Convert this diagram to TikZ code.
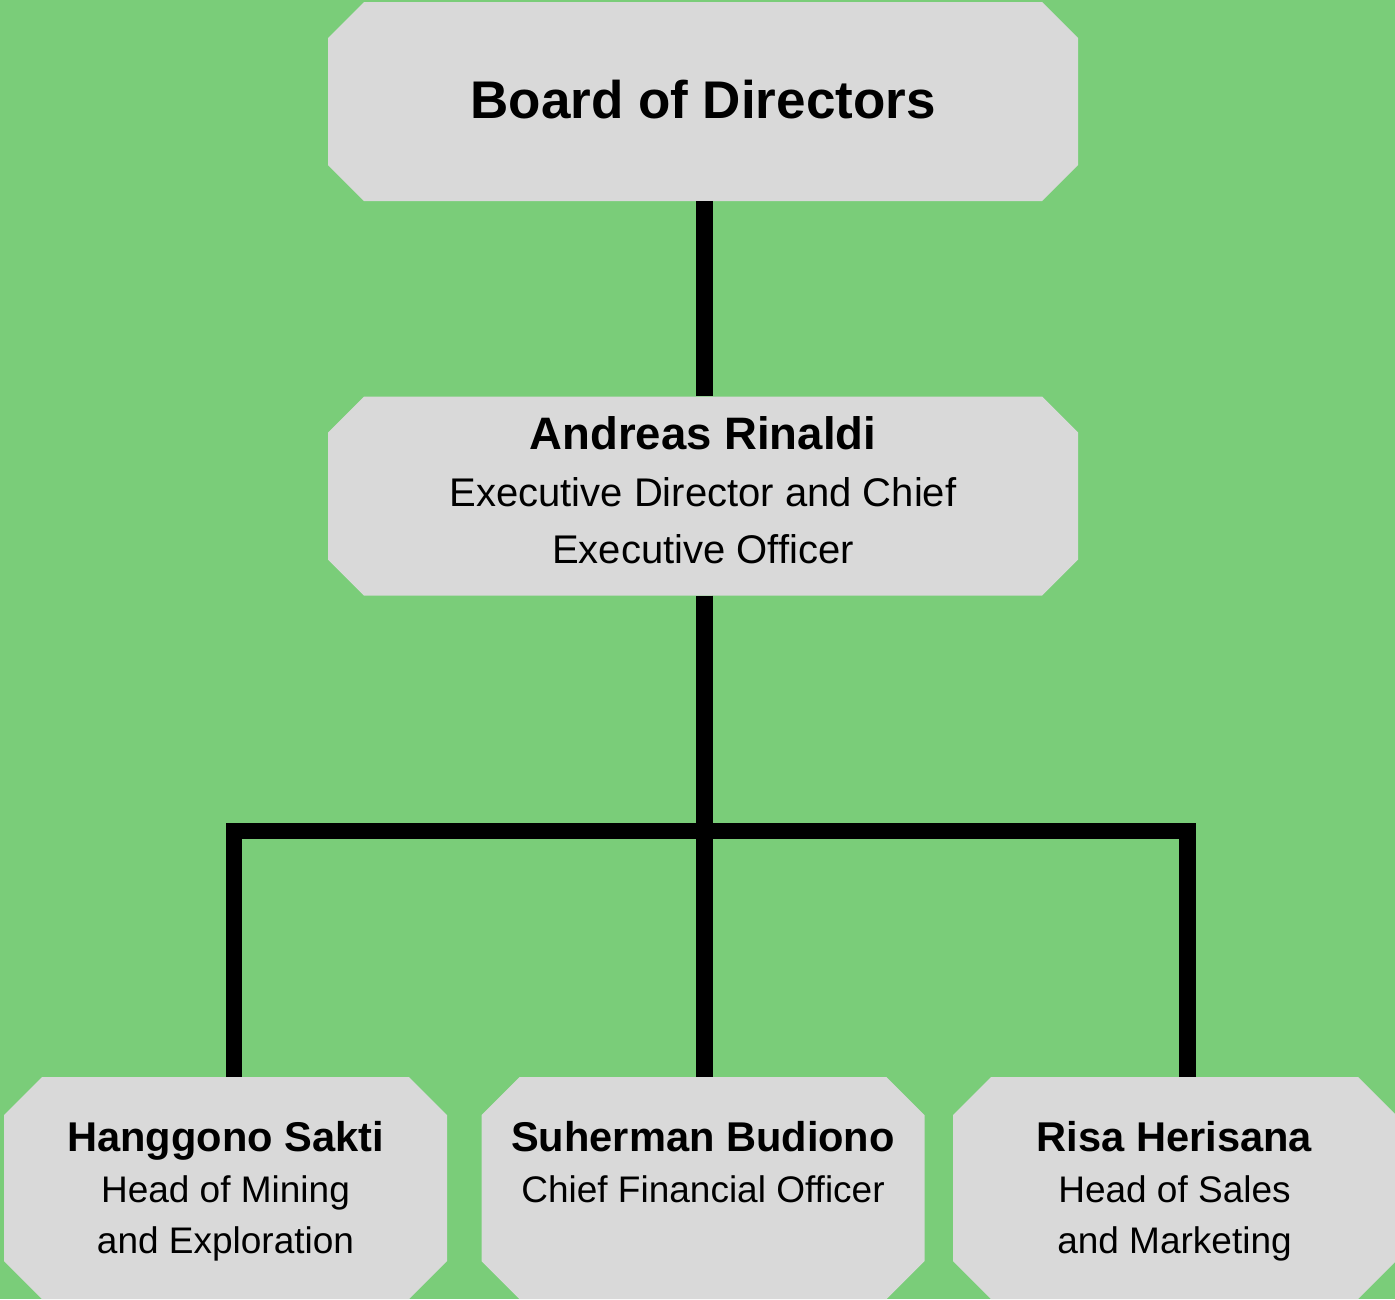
\documentclass[tikz,border=0pt]{standalone}
\usepackage{fontspec}
\setmainfont{Liberation Sans}

\definecolor{leafgreen}{RGB}{122,205,121}
\definecolor{boxgray}{RGB}{217,217,217}

\begin{document}
\begin{tikzpicture}[
    x = 1pt,
    y = -1pt,
    link/.style = {
      line width = 16.5pt,
      line join = miter,
      draw = black
    },
    clipped corners/.style = {
      path picture = {
        \fill[boxgray]
          ([xshift=#1]path picture bounding box.north west)
          -- ([xshift=-#1]path picture bounding box.north east)
          -- ([yshift=-#1]path picture bounding box.north east)
          -- ([yshift=#1]path picture bounding box.south east)
          -- ([xshift=-#1]path picture bounding box.south east)
          -- ([xshift=#1]path picture bounding box.south west)
          -- ([yshift=#1]path picture bounding box.south west)
          -- ([yshift=-#1]path picture bounding box.north west)
          -- cycle;
      }
    },
    post/.style = {
      rectangle,
      inner sep = 0pt,
      align = center,
      minimum width = 750pt,
      minimum height = 199pt,
      clipped corners = 36pt
    },
    member/.style = {
      post,
      minimum width = 443pt,
      minimum height = 222pt,
      clipped corners = 38pt,
      text height = 138pt,
      text depth = 8pt,
      font = \fontsize{37}{51}\selectfont
    }
  ]
  \useasboundingbox[fill=leafgreen] (0,0) rectangle (1395,1299);

  \node[post, text height=40pt, text depth=7pt, font=\fontsize{53}{60}\selectfont\bfseries]
    (board) at (703,101.5) {Board of Directors};
  \node[post, text height=146pt, text depth=12pt, font=\fontsize{40}{57}\selectfont] (ceo) at (703,496)
    {{\fontsize{45.5}{57}\selectfont\bfseries Andreas Rinaldi}\\Executive Director and Chief\\Executive Officer};

  \node[member] (mining) at (225.5,1188)
    {{\fontsize{41.6}{51}\selectfont\bfseries Hanggono Sakti}\\Head of Mining\\and Exploration};
  \node[member, text height=36pt] (cfo) at (703,1188)
    {{\fontsize{41.6}{51}\selectfont\bfseries Suherman Budiono}\\Chief Financial Officer};
  \node[member] (sales) at (1174.5,1188)
    {{\fontsize{41.6}{51}\selectfont\bfseries Risa Herisana}\\Head of Sales\\and Marketing};

  \coordinate (trunk) at (704.5,831);
  \coordinate (busL) at (234,831);
  \coordinate (busR) at (1187.5,831);

  \draw[link] (trunk |- board.south) -- (trunk |- ceo.north);
  \draw[link] (trunk |- ceo.south) -- (trunk |- cfo.north);
  \draw[link] (busL |- mining.north) -- (busL) -- (busR) -- (busR |- sales.north);

\end{tikzpicture}
\end{document}
